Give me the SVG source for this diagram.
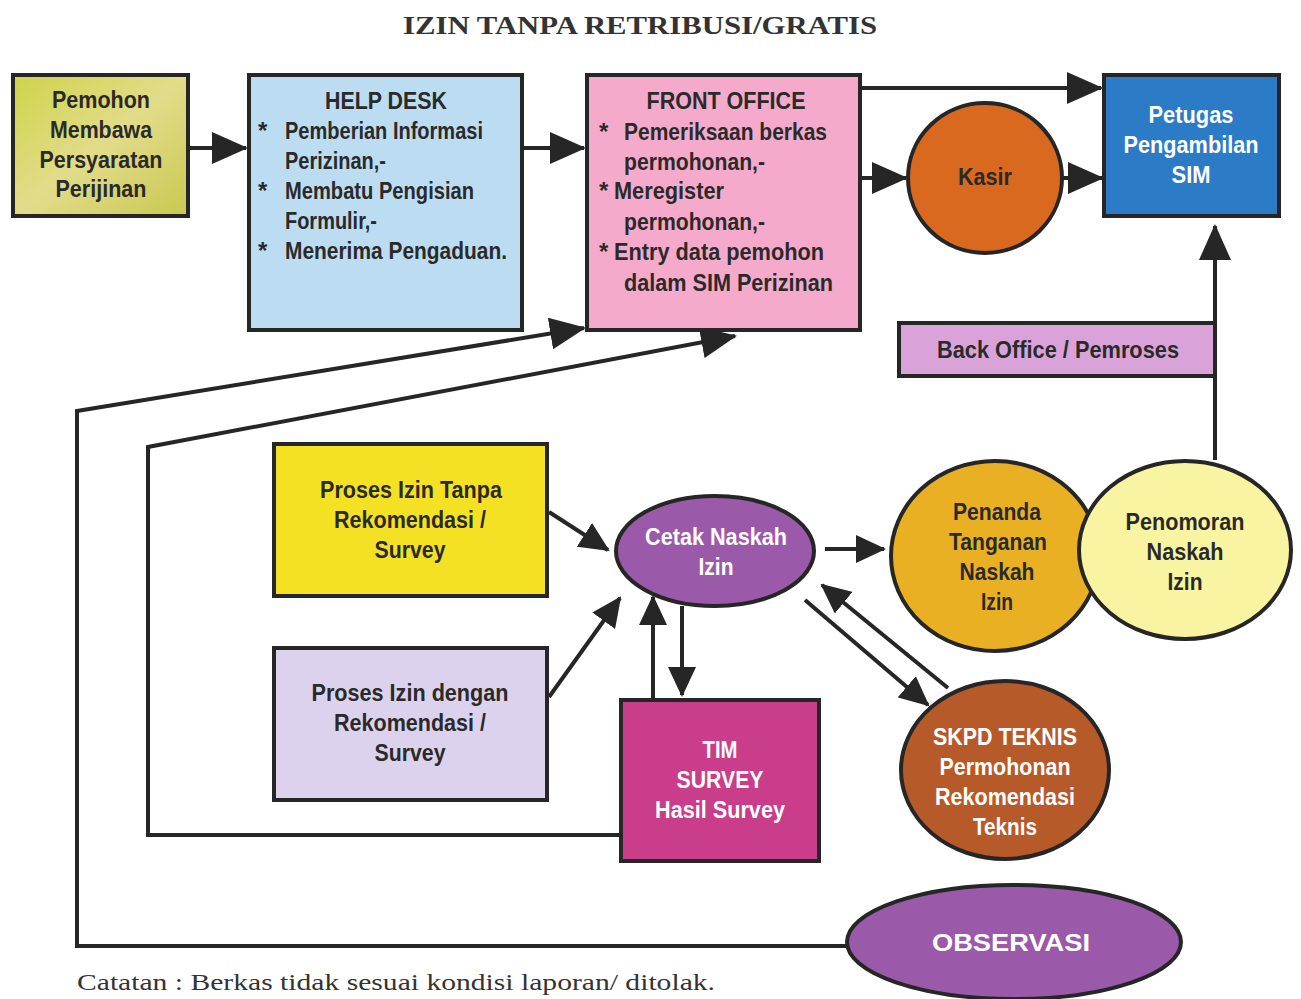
<svg xmlns="http://www.w3.org/2000/svg" width="1301" height="999" viewBox="0 0 1301 999">
<style>
.t{font-family:"Liberation Sans Narrow","Liberation Sans",Arial,sans-serif;font-weight:bold;font-size:24px;fill:#2a2a2a}
.w{fill:#ffffff}
.c{text-anchor:middle}
.box{stroke:#262626;stroke-width:4}
.ln{fill:none;stroke:#262626;stroke-width:4}
.title{font-family:"Liberation Serif","Times New Roman",serif;font-weight:bold;font-size:26px;fill:#333}
.note{font-family:"Liberation Serif","Times New Roman",serif;font-size:23px;fill:#333}
</style>
<defs>
<marker id="ah" viewBox="0 0 36 32" refX="34" refY="16" markerWidth="36" markerHeight="32" markerUnits="userSpaceOnUse" orient="auto">
<path d="M0,0 L36,16 L0,32 z" fill="#262626"/>
</marker>
<marker id="as" viewBox="0 0 30 28" refX="28" refY="14" markerWidth="30" markerHeight="28" markerUnits="userSpaceOnUse" orient="auto">
<path d="M0,0 L30,14 L0,28 z" fill="#262626"/>
</marker>
<linearGradient id="gPem" x1="0" y1="0" x2="1" y2="1">
<stop offset="0" stop-color="#cfd34a"/><stop offset="0.5" stop-color="#e2dc8a"/><stop offset="1" stop-color="#c9c850"/>
</linearGradient>
</defs>
<rect width="1301" height="999" fill="#ffffff"/>
<text class="title c" x="640" y="34" textLength="474" lengthAdjust="spacingAndGlyphs">IZIN TANPA RETRIBUSI/GRATIS</text>

<g id="connectors">
<line class="ln" x1="188" y1="148" x2="246" y2="148" marker-end="url(#ah)"/>
<line class="ln" x1="522" y1="148" x2="584" y2="148" marker-end="url(#ah)"/>
<line class="ln" x1="860" y1="88" x2="1101" y2="88" marker-end="url(#ah)"/>
<line class="ln" x1="860" y1="178" x2="906" y2="178" marker-end="url(#ah)"/>
<line class="ln" x1="1063" y1="178" x2="1102" y2="178" marker-end="url(#ah)"/>
<polyline class="ln" points="1215,460 1215,226" marker-end="url(#ah)"/>
<polyline class="ln" points="620,835 148,835 148,447 735,336" marker-end="url(#ah)"/>
<polyline class="ln" points="848,946 77,946 77,411 584,328" marker-end="url(#ah)"/>
<line class="ln" x1="549" y1="512" x2="608" y2="550" marker-end="url(#as)"/>
<line class="ln" x1="549" y1="697" x2="620" y2="598" marker-end="url(#as)"/>
<line class="ln" x1="653" y1="699" x2="653" y2="597" marker-end="url(#as)"/>
<line class="ln" x1="682" y1="606" x2="682" y2="695" marker-end="url(#as)"/>
<line class="ln" x1="825" y1="549" x2="884" y2="549" marker-end="url(#as)"/>
<line class="ln" x1="805" y1="600" x2="928" y2="705" marker-end="url(#as)"/>
<line class="ln" x1="948" y1="688" x2="822" y2="585" marker-end="url(#as)"/>
</g>

<g id="pemohon">
<rect class="box" x="13" y="75" width="175" height="141" fill="url(#gPem)"/>
<text class="t c" x="101" y="108" textLength="98" lengthAdjust="spacingAndGlyphs">Pemohon</text>
<text class="t c" x="101" y="138" textLength="102" lengthAdjust="spacingAndGlyphs">Membawa</text>
<text class="t c" x="101" y="168" textLength="123" lengthAdjust="spacingAndGlyphs">Persyaratan</text>
<text class="t c" x="101" y="197" textLength="91" lengthAdjust="spacingAndGlyphs">Perijinan</text>
</g>

<g id="helpdesk">
<rect class="box" x="249" y="75" width="273" height="255" fill="#bcdcf2"/>
<text class="t c" x="386" y="109" textLength="122" lengthAdjust="spacingAndGlyphs">HELP DESK</text>
<text class="t" x="258" y="139">*</text>
<text class="t" x="285" y="139" textLength="198" lengthAdjust="spacingAndGlyphs">Pemberian Informasi</text>
<text class="t" x="285" y="169" textLength="101" lengthAdjust="spacingAndGlyphs">Perizinan,-</text>
<text class="t" x="258" y="199">*</text>
<text class="t" x="285" y="199" textLength="189" lengthAdjust="spacingAndGlyphs">Membatu Pengisian</text>
<text class="t" x="285" y="229" textLength="92" lengthAdjust="spacingAndGlyphs">Formulir,-</text>
<text class="t" x="258" y="259">*</text>
<text class="t" x="285" y="259" textLength="222" lengthAdjust="spacingAndGlyphs">Menerima Pengaduan.</text>
</g>

<g id="frontoffice">
<rect class="box" x="587" y="75" width="273" height="255" fill="#f5aacb"/>
<text class="t c" x="726" y="109" textLength="159" lengthAdjust="spacingAndGlyphs">FRONT OFFICE</text>
<text class="t" x="599" y="140">*</text>
<text class="t" x="624" y="140" textLength="203" lengthAdjust="spacingAndGlyphs">Pemeriksaan berkas</text>
<text class="t" x="624" y="170" textLength="141" lengthAdjust="spacingAndGlyphs">permohonan,-</text>
<text class="t" x="599" y="199">*</text>
<text class="t" x="614" y="199" textLength="110" lengthAdjust="spacingAndGlyphs">Meregister</text>
<text class="t" x="624" y="230" textLength="141" lengthAdjust="spacingAndGlyphs">permohonan,-</text>
<text class="t" x="599" y="260">*</text>
<text class="t" x="614" y="260" textLength="210" lengthAdjust="spacingAndGlyphs">Entry data pemohon</text>
<text class="t" x="624" y="291" textLength="209" lengthAdjust="spacingAndGlyphs">dalam SIM Perizinan</text>
</g>

<g id="kasir">
<ellipse class="box" cx="985" cy="178" rx="77" ry="75" fill="#d9691f"/>
<text class="t c" x="985" y="185" textLength="54" lengthAdjust="spacingAndGlyphs">Kasir</text>
</g>

<g id="petugas">
<rect class="box" x="1104" y="75" width="175" height="141" fill="#2b7bc6"/>
<text class="t c w" x="1191" y="123" textLength="85" lengthAdjust="spacingAndGlyphs">Petugas</text>
<text class="t c w" x="1191" y="153" textLength="135" lengthAdjust="spacingAndGlyphs">Pengambilan</text>
<text class="t c w" x="1191" y="183" textLength="39" lengthAdjust="spacingAndGlyphs">SIM</text>
</g>

<g id="backoffice">
<rect class="box" x="899" y="323" width="316" height="53" fill="#d9a3d9"/>
<text class="t c" x="1058" y="358" textLength="242" lengthAdjust="spacingAndGlyphs">Back Office / Pemroses</text>
</g>

<g id="proses-tanpa">
<rect class="box" x="274" y="444" width="273" height="152" fill="#f4e123"/>
<text class="t c" x="411" y="498" textLength="182" lengthAdjust="spacingAndGlyphs">Proses Izin Tanpa</text>
<text class="t c" x="410" y="528" textLength="152" lengthAdjust="spacingAndGlyphs">Rekomendasi /</text>
<text class="t c" x="410" y="558" textLength="71" lengthAdjust="spacingAndGlyphs">Survey</text>
</g>

<g id="proses-dengan">
<rect class="box" x="274" y="648" width="273" height="152" fill="#ddd2ed"/>
<text class="t c" x="410" y="701" textLength="197" lengthAdjust="spacingAndGlyphs">Proses Izin dengan</text>
<text class="t c" x="410" y="731" textLength="152" lengthAdjust="spacingAndGlyphs">Rekomendasi /</text>
<text class="t c" x="410" y="761" textLength="71" lengthAdjust="spacingAndGlyphs">Survey</text>
</g>

<g id="cetak">
<ellipse class="box" cx="715" cy="551" rx="99" ry="55" fill="#9b5aa9"/>
<text class="t c w" x="716" y="545" textLength="142" lengthAdjust="spacingAndGlyphs">Cetak Naskah</text>
<text class="t c w" x="716" y="575" textLength="35" lengthAdjust="spacingAndGlyphs">Izin</text>
</g>

<g id="timsurvey">
<rect class="box" x="621" y="700" width="198" height="161" fill="#c93d8a"/>
<text class="t c w" x="720" y="758" textLength="35" lengthAdjust="spacingAndGlyphs">TIM</text>
<text class="t c w" x="720" y="788" textLength="87" lengthAdjust="spacingAndGlyphs">SURVEY</text>
<text class="t c w" x="720" y="818" textLength="130" lengthAdjust="spacingAndGlyphs">Hasil Survey</text>
</g>

<g id="penanda">
<ellipse class="box" cx="995" cy="556" rx="104" ry="95" fill="#e8b022"/>
<text class="t c" x="997" y="520" textLength="88" lengthAdjust="spacingAndGlyphs">Penanda</text>
<text class="t c" x="998" y="550" textLength="98" lengthAdjust="spacingAndGlyphs">Tanganan</text>
<text class="t c" x="997" y="580" textLength="75" lengthAdjust="spacingAndGlyphs">Naskah</text>
<text class="t c" x="997" y="610" textLength="32" lengthAdjust="spacingAndGlyphs">Izin</text>
</g>

<g id="penomoran">
<ellipse class="box" cx="1185" cy="550" rx="106" ry="89" fill="#f9f4a2"/>
<text class="t c" x="1185" y="530" textLength="119" lengthAdjust="spacingAndGlyphs">Penomoran</text>
<text class="t c" x="1185" y="560" textLength="77" lengthAdjust="spacingAndGlyphs">Naskah</text>
<text class="t c" x="1185" y="590" textLength="35" lengthAdjust="spacingAndGlyphs">Izin</text>
</g>

<g id="skpd">
<ellipse class="box" cx="1005" cy="770" rx="104" ry="89" fill="#b75a29"/>
<text class="t c w" x="1005" y="745" textLength="144" lengthAdjust="spacingAndGlyphs">SKPD TEKNIS</text>
<text class="t c w" x="1005" y="775" textLength="131" lengthAdjust="spacingAndGlyphs">Permohonan</text>
<text class="t c w" x="1005" y="805" textLength="140" lengthAdjust="spacingAndGlyphs">Rekomendasi</text>
<text class="t c w" x="1005" y="835" textLength="64" lengthAdjust="spacingAndGlyphs">Teknis</text>
</g>

<g id="observasi">
<ellipse class="box" cx="1014" cy="942" rx="167" ry="57" fill="#9b5aa9"/>
<text class="t c w" x="1011" y="951" textLength="158" lengthAdjust="spacingAndGlyphs">OBSERVASI</text>
</g>

<text class="note" x="77" y="990" textLength="638" lengthAdjust="spacingAndGlyphs">Catatan : Berkas tidak sesuai kondisi laporan/ ditolak.</text>
</svg>
